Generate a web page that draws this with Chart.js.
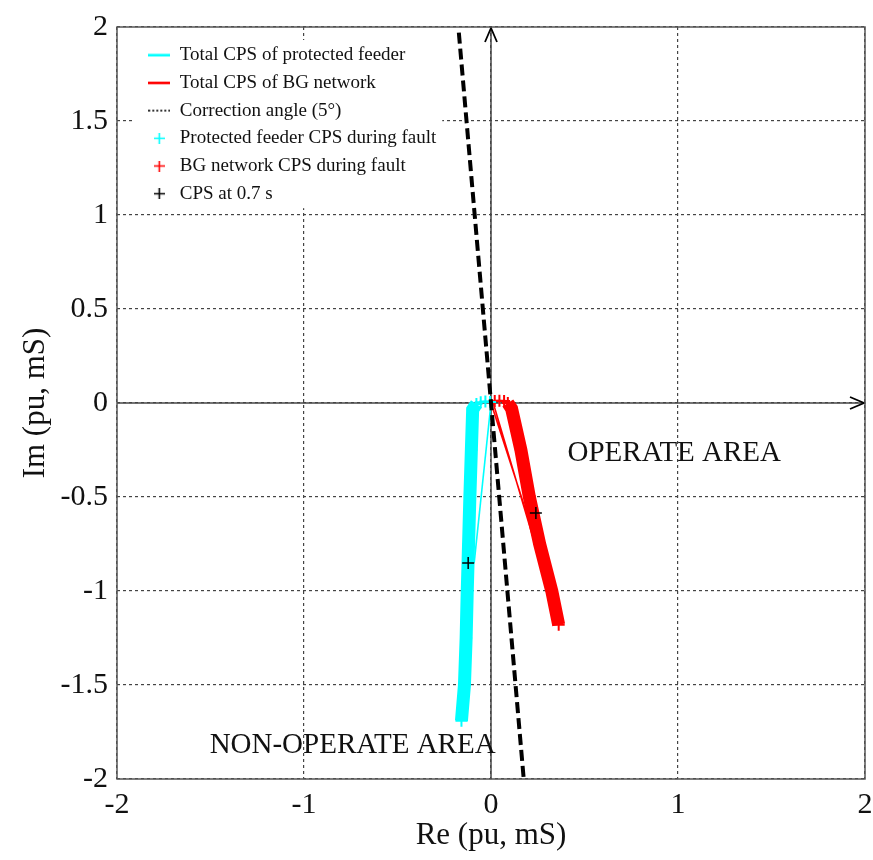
<!DOCTYPE html>
<html>
<head>
<meta charset="utf-8">
<script src="https://cdn.jsdelivr.net/npm/chart.js@4.4.1/dist/chart.umd.min.js"></script>
<style>
  html, body { margin: 0; padding: 0; background: #fff; }
</style>
</head>
<body>
<canvas id="chart" width="873" height="860" style="width:873px;height:860px;display:block"></canvas>
<script>
// tick labels
const xTicks = [-2, -1, 0, 1, 2];
const yTicks = [-2, -1.5, -1, -0.5, 0, 0.5, 1, 1.5, 2];

// legend texts, in legend order
const seriesLabels = [
    'Total CPS of protected feeder',
    'Total CPS of BG network',
    'Correction angle (5\u00b0)',
    'Protected feeder CPS during fault',
    'BG network CPS during fault',
    'CPS at 0.7 s'
];

// total CPS trajectories (thin lines)
const feederTotalRe = [0, -0.09];
const feederTotalIm = [0, -0.85];
const bgTotalRe = [0, 0.232, 0.222, 0.012];
const bgTotalIm = [0, -0.712, -0.706, 0.0];

// correction angle line (5 deg)
const correctionRe = [-0.172, 0.175];
const correctionIm = [1.97, -2.0];

// CPS during fault: first few points are the short hook near the origin
const feederFaultRe = [-0.005, -0.03, -0.055, -0.078, -0.098, -0.105, -0.113, -0.12, -0.127, -0.133, -0.142, -0.158];
const feederFaultIm = [0.005, 0.008, 0.004, -0.005, -0.035, -0.25, -0.5, -0.75, -1.0, -1.25, -1.5, -1.69];
const bgFaultRe = [0.02, 0.045, 0.07, 0.09, 0.11, 0.16, 0.205, 0.26, 0.325, 0.362];
const bgFaultIm = [0.01, 0.012, 0.01, 0.0, -0.03, -0.25, -0.5, -0.75, -1.0, -1.18];
const hookLen = 4;

// CPS at 0.7 s
const cps07Re = [-0.122, 0.24];
const cps07Im = [-0.851, -0.585];

// axes through origin
const axisReRe = [-2, 2];
const axisReIm = [0, 0];
const axisImRe = [0, 0];
const axisImIm = [-2, 2];

// area annotations
const areaText = ['OPERATE AREA', 'NON-OPERATE AREA'];
const areaRe = [0.98, -0.74];
const areaIm = [-0.266, -1.82];

const CYAN = '#00ffff';
const RED = '#ff0000';
const SERIF = '"Liberation Serif", "Times New Roman", serif';

function pts(re, im) {
    return re.map((v, i) => ({ x: v, y: im[i] }));
}

// small canvases used as legend samples
function sample(kind, color) {
    const c = document.createElement('canvas');
    const g = c.getContext('2d');
    if (kind === 'cross') {
        c.width = 11; c.height = 11;
        g.strokeStyle = color;
        g.lineWidth = 1.6;
        g.beginPath();
        g.moveTo(0, 5.5); g.lineTo(11, 5.5);
        g.moveTo(5.5, 0); g.lineTo(5.5, 11);
        g.stroke();
    } else {
        c.width = 22; c.height = 4;
        g.strokeStyle = color;
        g.lineWidth = kind === 'dots' ? 1.6 : 2.6;
        if (kind === 'dots') g.setLineDash([2, 2]);
        g.beginPath();
        g.moveTo(0, 2); g.lineTo(22, 2);
        g.stroke();
    }
    return c;
}

const legendSamples = [
    sample('line', CYAN),
    sample('line', RED),
    sample('dots', '#000'),
    sample('cross', CYAN),
    sample('cross', RED),
    sample('cross', '#000')
];

const bandWidth = ctx => (ctx.p0DataIndex < hookLen - 1 ? 2 : 13);

const datasets = [
    {
        label: seriesLabels[0], data: pts(feederTotalRe, feederTotalIm), showLine: true,
        borderColor: CYAN, borderWidth: 1.6, pointRadius: 0, order: 2
    },
    {
        label: seriesLabels[1], data: pts(bgTotalRe, bgTotalIm), showLine: true,
        borderColor: RED, borderWidth: 1.6, pointRadius: 0, order: 2
    },
    {
        label: seriesLabels[2], data: pts(correctionRe, correctionIm), showLine: true,
        borderColor: '#000', borderWidth: 4, borderDash: [11, 5], pointRadius: 0, order: 1
    },
    {
        label: seriesLabels[3], data: pts(feederFaultRe, feederFaultIm), showLine: true,
        borderColor: CYAN, borderWidth: 13, segment: { borderWidth: bandWidth },
        pointStyle: 'cross', pointRadius: 6, pointBorderWidth: 2, pointBorderColor: CYAN, order: 3
    },
    {
        label: seriesLabels[4], data: pts(bgFaultRe, bgFaultIm), showLine: true,
        borderColor: RED, borderWidth: 13, segment: { borderWidth: bandWidth },
        pointStyle: 'cross', pointRadius: 6, pointBorderWidth: 2, pointBorderColor: RED, order: 3
    },
    {
        label: seriesLabels[5], data: pts(cps07Re, cps07Im), showLine: false,
        pointStyle: 'cross', pointRadius: 6, pointBorderWidth: 1.5, pointBorderColor: '#000', order: 0
    },
    {
        label: 'axisRe', data: pts(axisReRe, axisReIm), showLine: true,
        borderColor: '#444', borderWidth: 1.5, pointRadius: 0, order: 4
    },
    {
        label: 'axisIm', data: pts(axisImRe, axisImIm), showLine: true,
        borderColor: '#444', borderWidth: 1.5, pointRadius: 0, order: 4
    }
];

// frame, arrows, area texts, legend background
const decorPlugin = {
    id: 'decor',
    beforeDraw(chart) {
        const lg = chart.legend;
        const ca = chart.chartArea;
        lg.left = ca.left + 22.6;
        lg.top = ca.top + 10;
        lg.right = lg.left + lg.width;
        lg.bottom = lg.top + lg.height;
    },
    afterDatasetsDraw(chart) {
        const ctx = chart.ctx;
        const xs = chart.scales.x, ys = chart.scales.y;
        ctx.save();
        // arrow heads at the ends of the two axes
        ctx.strokeStyle = '#000';
        ctx.lineWidth = 1.8;
        const tipRe = chart.getDatasetMeta(6).data[1];
        const tipIm = chart.getDatasetMeta(7).data[1];
        ctx.beginPath();
        ctx.moveTo(tipRe.x - 15, tipRe.y - 6);
        ctx.lineTo(tipRe.x - 1, tipRe.y);
        ctx.lineTo(tipRe.x - 15, tipRe.y + 6);
        ctx.moveTo(tipIm.x - 6, tipIm.y + 15);
        ctx.lineTo(tipIm.x, tipIm.y + 1);
        ctx.lineTo(tipIm.x + 6, tipIm.y + 15);
        ctx.stroke();
        // area annotations
        ctx.fillStyle = '#111';
        ctx.font = '29px ' + SERIF;
        ctx.textAlign = 'center';
        ctx.textBaseline = 'middle';
        areaText.forEach((t, i) => {
            ctx.fillText(t, xs.getPixelForValue(areaRe[i]), ys.getPixelForValue(areaIm[i]));
        });
        ctx.restore();
    },
    afterDraw(chart) {
        const ctx = chart.ctx;
        const ca = chart.chartArea;
        const lg = chart.legend;
        ctx.save();
        // white box behind legend, then legend on top of grid
        ctx.font = '19px ' + SERIF;
        let maxW = 0;
        seriesLabels.forEach(t => { maxW = Math.max(maxW, ctx.measureText(t).width); });
        const pad = lg.options.labels.padding;
        ctx.fillStyle = '#fff';
        ctx.fillRect(lg.left - 6, lg.top + 3, pad + 22 + 9.5 + maxW + 12, seriesLabels.length * (19 + pad) + 2);
        ctx.restore();
        lg.draw();
        ctx.save();
        ctx.strokeStyle = '#555';
        ctx.lineWidth = 1.5;
        ctx.strokeRect(ca.left, ca.top, ca.right - ca.left, ca.bottom - ca.top);
        ctx.restore();
    }
};

new Chart(document.getElementById('chart'), {
    type: 'scatter',
    data: { datasets: datasets },
    plugins: [decorPlugin],
    options: {
        responsive: false,
        animation: false,
        devicePixelRatio: 1,
        layout: { padding: { top: 27, right: 0, left: 0, bottom: 0 } },
        elements: { line: { tension: 0, borderCapStyle: 'butt' } },
        plugins: {
            tooltip: { enabled: false },
            legend: {
                position: 'chartArea',
                align: 'start',
                labels: {
                    usePointStyle: true,
                    pointStyleWidth: 22,
                    padding: 8.7,
                    color: '#111',
                    font: { family: SERIF, size: 19 },
                    generateLabels(chart) {
                        return seriesLabels.map((t, i) => ({
                            text: t,
                            fillStyle: '#000',
                            strokeStyle: '#000',
                            lineWidth: 0,
                            pointStyle: legendSamples[i],
                            hidden: false,
                            datasetIndex: i,
                            fontColor: '#111'
                        }));
                    }
                }
            }
        },
        scales: {
            x: {
                type: 'linear',
                min: -2, max: 2,
                afterBuildTicks: s => { s.ticks = xTicks.map(v => ({ value: v })); },
                afterFit: s => { s.height = 81; s.paddingRight = 6; s.paddingLeft = 0; },
                grid: { color: '#444', lineWidth: 1.2, drawTicks: false },
                border: { display: false, dash: [3, 3] },
                ticks: {
                    padding: 8,
                    color: '#111',
                    font: { family: SERIF, size: 30 },
                    callback: v => String(v)
                },
                title: {
                    display: true,
                    text: 'Re (pu, mS)',
                    color: '#111',
                    font: { family: SERIF, size: 31 },
                    padding: { top: 0, bottom: 6 }
                }
            },
            y: {
                type: 'linear',
                min: -2, max: 2,
                afterBuildTicks: s => { s.ticks = yTicks.map(v => ({ value: v })); },
                afterFit: s => { s.width = 117; },
                grid: { color: '#444', lineWidth: 1.2, drawTicks: false },
                border: { display: false, dash: [3, 3] },
                ticks: {
                    padding: 9,
                    color: '#111',
                    font: { family: SERIF, size: 30 },
                    callback: v => String(v)
                },
                title: {
                    display: true,
                    text: 'Im (pu, mS)',
                    color: '#111',
                    font: { family: SERIF, size: 31 },
                    padding: { top: 17, bottom: 0 }
                }
            }
        }
    }
});
</script>
</body>
</html>
